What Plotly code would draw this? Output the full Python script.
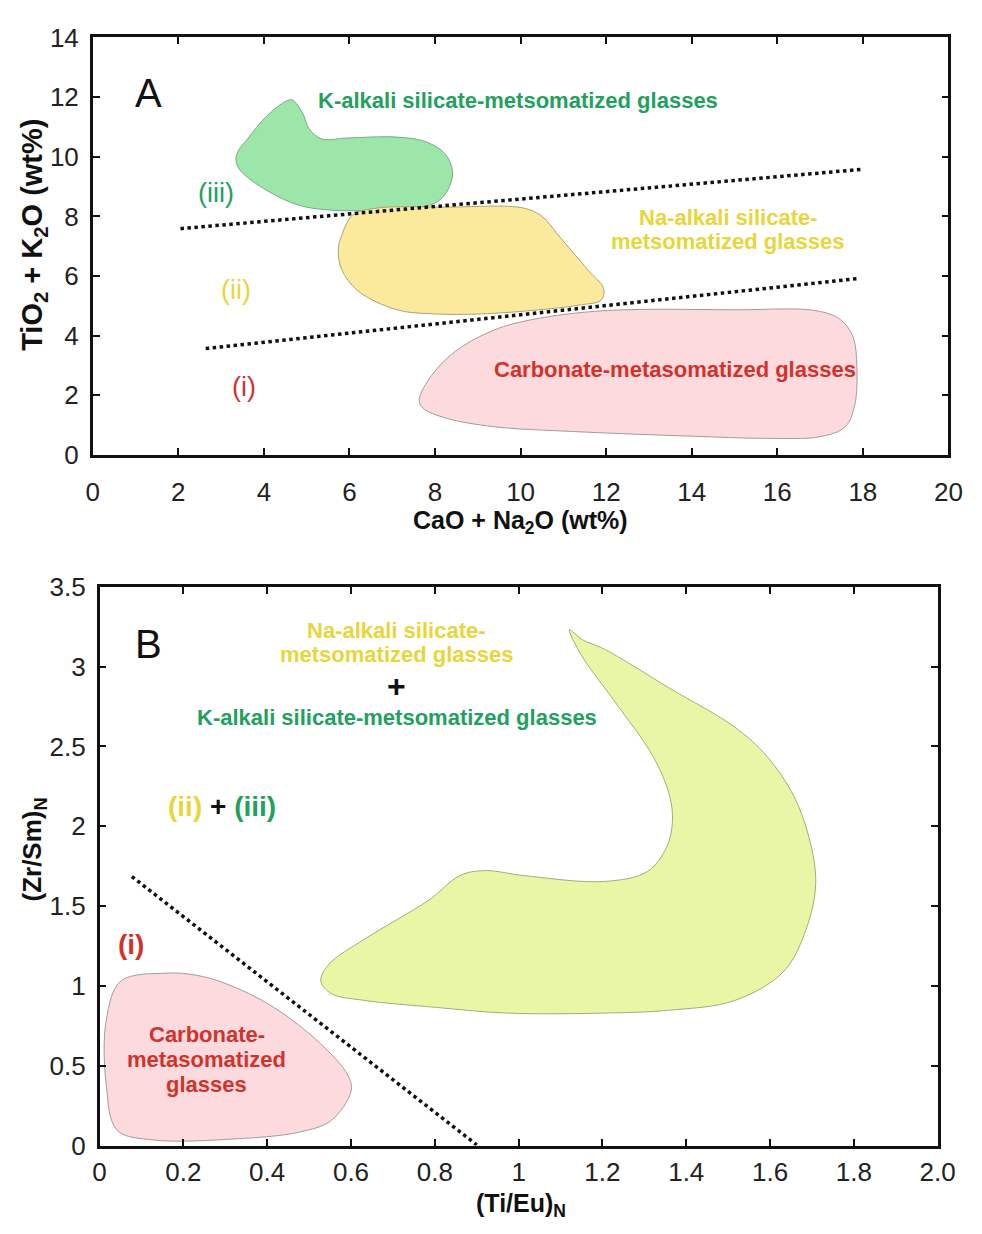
import plotly.graph_objects as go

W, H = 982, 1234
FONT = "Liberation Sans, Arial, sans-serif"

# ---------------- Panel A data (CaO+Na2O vs TiO2+K2O) ----------------
k_field_x = [4.53, 4.07, 3.62, 3.39, 3.35, 3.46, 4.07, 4.83, 5.58, 6.72, 7.72, 8.18, 8.41, 8.25, 7.79, 7.10, 5.97, 5.35, 5.06, 4.90, 4.67, 4.53]
k_field_y = [11.87, 11.37, 10.60, 10.17, 9.85, 9.52, 8.87, 8.37, 8.21, 8.21, 8.31, 8.64, 9.42, 10.07, 10.50, 10.66, 10.63, 10.60, 10.93, 11.48, 11.90, 11.87]

na_field_x = [5.81, 6.08, 6.65, 8.25, 10.07, 10.52, 10.87, 11.59, 11.94, 11.89, 11.44, 9.23, 7.86, 7.11, 6.20, 5.81, 5.74, 5.81]
na_field_y = [7.33, 8.05, 8.28, 8.31, 8.28, 7.98, 7.39, 6.18, 5.59, 5.20, 5.04, 4.74, 4.74, 4.87, 5.50, 6.25, 6.90, 7.33]

carb_a_x = [7.63, 7.86, 8.47, 9.38, 10.30, 11.96, 15.01, 16.90, 17.47, 17.77, 17.86, 17.81, 17.59, 17.02, 15.76, 14.24, 11.21, 9.38, 8.25, 7.72, 7.63]
carb_a_y = [1.83, 2.55, 3.47, 4.19, 4.55, 4.84, 4.87, 4.84, 4.55, 3.96, 2.98, 1.67, 0.95, 0.62, 0.56, 0.62, 0.79, 0.95, 1.24, 1.57, 1.83]

line_upper_x = [2.05, 18.0]
line_upper_y = [7.59, 9.58]
line_lower_x = [2.64, 17.9]
line_lower_y = [3.57, 5.92]

a_xticks = [0, 2, 4, 6, 8, 10, 12, 14, 16, 18, 20]
a_yticks = [0, 2, 4, 6, 8, 10, 12, 14]

# ---------------- Panel B data ((Ti/Eu)N vs (Zr/Sm)N) ----------------
alk_field_x = [1.121, 1.151, 1.205, 1.360, 1.516, 1.593, 1.656, 1.693, 1.709, 1.686, 1.633, 1.516, 1.360, 1.205, 0.972, 0.802, 0.633, 0.553, 0.528, 0.547, 0.633, 0.786, 0.860, 0.919, 1.012, 1.205, 1.307, 1.353, 1.367, 1.360, 1.321, 1.228, 1.151, 1.121]
alk_field_y = [3.232, 3.170, 3.109, 2.865, 2.621, 2.437, 2.193, 1.930, 1.643, 1.356, 1.093, 0.910, 0.849, 0.831, 0.831, 0.867, 0.910, 0.953, 1.032, 1.136, 1.295, 1.539, 1.692, 1.723, 1.692, 1.655, 1.717, 1.869, 2.028, 2.193, 2.437, 2.786, 3.067, 3.232]

carb_b_x = [0.158, 0.051, 0.016, 0.016, 0.042, 0.128, 0.321, 0.477, 0.553, 0.600, 0.593, 0.516, 0.400, 0.284, 0.214, 0.158]
carb_b_y = [1.081, 1.032, 0.788, 0.379, 0.098, 0.037, 0.043, 0.086, 0.159, 0.342, 0.440, 0.666, 0.892, 1.032, 1.075, 1.081]

line_b_x = [0.077, 0.90]
line_b_y = [1.686, 0.006]

b_xticks = [0, 0.2, 0.4, 0.6, 0.8, 1.0, 1.2, 1.4, 1.6, 1.8, 2.0]
b_xticktext = ["0", "0.2", "0.4", "0.6", "0.8", "1", "1.2", "1.4", "1.6", "1.8", "2.0"]
b_yticks = [0, 0.5, 1.0, 1.5, 2.0, 2.5, 3.0, 3.5]
b_yticktext = ["0", "0.5", "1", "1.5", "2", "2.5", "3", "3.5"]

# ---------------- colours ----------------
GREEN_TXT = "#22a05e"
YELLOW_TXT = "#e8d53c"
RED_TXT = "#d2322c"
GREEN_FILL = "#9de6a9"
YELLOW_FILL = "#fbe99c"
PINK_FILL = "#fddadd"
LIME_FILL = "#e9f6a6"

fig = go.Figure()

def blob(x, y, fill, edge, xa, ya):
    fig.add_trace(go.Scatter(x=x, y=y, mode="lines", fill="toself", fillcolor=fill,
                             line=dict(color=edge, width=1, shape="spline", smoothing=1.0),
                             xaxis=xa, yaxis=ya, hoverinfo="skip", showlegend=False))

def dotted(x, y, xa, ya):
    fig.add_trace(go.Scatter(x=x, y=y, mode="lines",
                             line=dict(color="#111111", width=3.5, dash="dot"),
                             xaxis=xa, yaxis=ya, hoverinfo="skip", showlegend=False))

blob(k_field_x, k_field_y, GREEN_FILL, "#7aa886", "x", "y")
blob(na_field_x, na_field_y, YELLOW_FILL, "#a9a279", "x", "y")
blob(carb_a_x, carb_a_y, PINK_FILL, "#a59a9a", "x", "y")
dotted(line_upper_x, line_upper_y, "x", "y")
dotted(line_lower_x, line_lower_y, "x", "y")

blob(alk_field_x, alk_field_y, LIME_FILL, "#a3ad78", "x2", "y2")
blob(carb_b_x, carb_b_y, PINK_FILL, "#a59a9a", "x2", "y2")
dotted(line_b_x, line_b_y, "x2", "y2")

def px(v):
    return v / W

def py(v):
    return 1 - v / H

axis_common = dict(showline=True, linewidth=2.5, linecolor="#111111", mirror="ticks",
                   ticks="inside", ticklen=7, tickwidth=2, tickcolor="#111111",
                   showgrid=False, zeroline=False,
                   tickfont=dict(family=FONT, size=26, color="#222222"))

fig.update_layout(
    width=W, height=H, margin=dict(l=0, r=0, t=0, b=0),
    paper_bgcolor="white", plot_bgcolor="white",
    showlegend=False,
    xaxis=dict(domain=[px(88), px(966)], range=[0, 20], anchor="y",
               tickvals=a_xticks, ticklabelstandoff=12, **axis_common),
    yaxis=dict(domain=[py(451), py(23)], range=[0, 14], anchor="x",
               tickvals=a_yticks, ticklabelstandoff=6, **axis_common),
    xaxis2=dict(domain=[px(95), px(955)], range=[0, 2], anchor="y2",
                tickvals=b_xticks, ticktext=b_xticktext, ticklabelstandoff=1, **axis_common),
    yaxis2=dict(domain=[py(1159), py(586)], range=[0, 3.5], anchor="x2",
                tickvals=b_yticks, ticktext=b_yticktext, ticklabelstandoff=6, **axis_common),
)

ann = []

def add_text(text, x, y, size, color, xref="x", yref="y", bold=False, angle=0):
    t = f"<b>{text}</b>" if bold else text
    ann.append(dict(text=t, x=x, y=y, xref=xref, yref=yref, showarrow=False,
                    xanchor="center", yanchor="middle", textangle=angle,
                    font=dict(family=FONT, size=size, color=color)))

# Panel A labels
add_text("A", 1.3, 12.14, 40, "#111111")
add_text("K-alkali silicate-metsomatized glasses", 9.95, 11.87, 22, GREEN_TXT, bold=True)
add_text("Na-alkali silicate-", 14.85, 7.95, 22, YELLOW_TXT, bold=True)
add_text("metsomatized glasses", 14.85, 7.16, 22, YELLOW_TXT, bold=True)
add_text("Carbonate-metasomatized glasses", 13.6, 2.88, 22, RED_TXT, bold=True)
add_text("(iii)", 2.89, 8.77, 27, GREEN_TXT)
add_text("(ii)", 3.35, 5.53, 27, YELLOW_TXT)
add_text("(i)", 3.53, 2.29, 27, RED_TXT)

# Panel B labels
add_text("B", 0.116, 3.14, 40, "#111111", xref="x2", yref="y2")
add_text("Na-alkali silicate-", 0.709, 3.227, 22, YELLOW_TXT, xref="x2", yref="y2", bold=True)
add_text("metsomatized glasses", 0.709, 3.074, 22, YELLOW_TXT, xref="x2", yref="y2", bold=True)
add_text("+", 0.709, 2.877, 32, "#111111", xref="x2", yref="y2", bold=True)
add_text("K-alkali silicate-metsomatized glasses", 0.709, 2.68, 22, GREEN_TXT, xref="x2", yref="y2", bold=True)
add_text(f"<span style='color:{YELLOW_TXT}'>(ii)</span> + <span style='color:{GREEN_TXT}'>(iii)</span>",
         0.291, 2.126, 28, "#111111", xref="x2", yref="y2", bold=True)
add_text("(i)", 0.074, 1.26, 28, RED_TXT, xref="x2", yref="y2", bold=True)
add_text("Carbonate-", 0.256, 0.697, 22, RED_TXT, xref="x2", yref="y2", bold=True)
add_text("metasomatized", 0.256, 0.538, 22, RED_TXT, xref="x2", yref="y2", bold=True)
add_text("glasses", 0.256, 0.385, 22, RED_TXT, xref="x2", yref="y2", bold=True)

# Axis titles
add_text("CaO + Na<sub>2</sub>O (wt%)", px(527), py(520), 25, "#111111", xref="paper", yref="paper", bold=True)
add_text("TiO<sub>2</sub> + K<sub>2</sub>O (wt%)", px(27), py(225), 29, "#111111", xref="paper", yref="paper", bold=True, angle=-90)
add_text("(Ti/Eu)<sub>N</sub>", px(527), py(1220), 25, "#111111", xref="paper", yref="paper", bold=True)
add_text("(Zr/Sm)<sub>N</sub>", px(27), py(855), 26, "#111111", xref="paper", yref="paper", bold=True, angle=-90)

fig.update_layout(annotations=ann)

fig.write_html("out.html")
